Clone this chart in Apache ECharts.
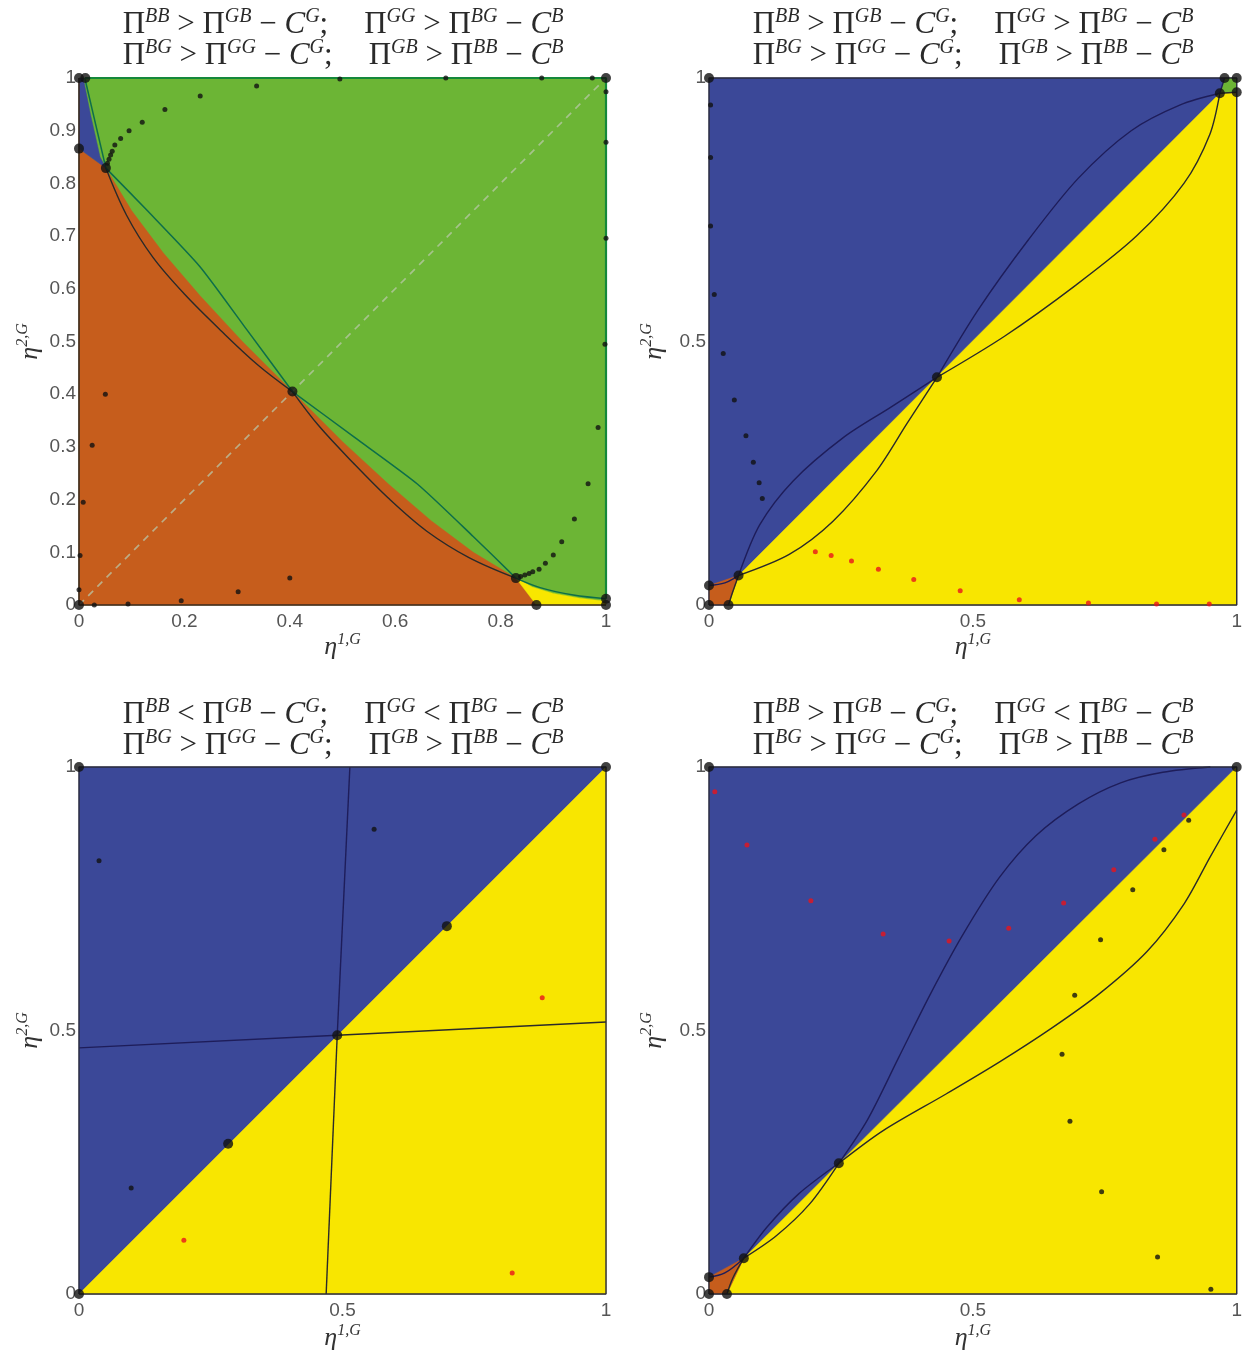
<!DOCTYPE html>
<html><head><meta charset="utf-8">
<script src="https://cdn.jsdelivr.net/npm/echarts@6/dist/echarts.min.js"></script>
<style>html,body{margin:0;padding:0;background:#fff}#c{width:1245px;height:1354px}</style>
</head><body><div id="c"></div>
<script>
// ================= DATA =================
// Tick label sets
const ticksA_x = [0, 0.2, 0.4, 0.6, 0.8, 1];
const ticksA_y = [0, 0.1, 0.2, 0.3, 0.4, 0.5, 0.6, 0.7, 0.8, 0.9, 1];
const ticksBCD = [0, 0.5, 1];

// ---- Panel A (top-left) regions ----
const A_green  = [[0,0],[1,0],[1,1],[0,1]];
const A_orange = [[0,0],[0,0.866],[0.051,0.829],[0.1,0.748],[0.16,0.668],[0.2296,0.587],[0.31,0.5],[0.405,0.405],[0.5,0.31],[0.587,0.2296],[0.668,0.16],[0.748,0.1],[0.829,0.051],[0.868,0]];
const A_blue   = [[0,1],[0.008,1],[0.022,0.93],[0.04,0.85],[0.051,0.829],[0,0.866]];
const A_yellow = [[0.829,0.051],[0.868,0],[1,0],[1,0.007],[0.95,0.013],[0.9,0.022],[0.86,0.034]];
// ---- Panel A curves ----
const A_teal1 = [[0.011,1],[0.051,0.829]];
const A_teal2 = [[0.051,0.829],[0.13,0.748],[0.2296,0.642],[0.318,0.523],[0.405,0.405]];
const A_teal3 = [[0.405,0.405],[0.523,0.318],[0.642,0.2296],[0.748,0.13],[0.829,0.051]];
const A_teal4 = [[0.829,0.051],[0.875,0.033],[0.938,0.019],[1,0.012]];
const A_black1 = [[0.051,0.829],[0.09,0.74],[0.14,0.66],[0.2,0.59],[0.27,0.52],[0.34,0.455],[0.405,0.405]];
const A_black2 = [[0.405,0.405],[0.455,0.34],[0.52,0.27],[0.59,0.2],[0.66,0.14],[0.74,0.09],[0.829,0.051]];
const A_diag = [[0,0],[1,1]];
const A_edgeGreen = [[0.011,1],[1,1],[1,0.012]];
const A_edgeDark = [[0,1],[0,0],[1,0]];
// ---- Panel A dots ----
const A_big = [[0,0],[0,1],[0.012,1],[1,1],[0,0.866],[0.051,0.829],[0.405,0.405],[0.829,0.051],[0.868,0],[1,0],[1,0.012]];
const A_small = [
  [0.054,0.838],[0.057,0.846],[0.06,0.854],[0.063,0.861],[0.068,0.873],[0.079,0.885],[0.095,0.9],[0.12,0.916],[0.163,0.94],[0.23,0.966],[0.337,0.985],[0.495,0.998],[0.696,1],[0.878,1],[0.974,1],
  [0.838,0.054],[0.846,0.057],[0.854,0.06],[0.861,0.063],[0.873,0.068],[0.885,0.079],[0.9,0.095],[0.916,0.12],[0.94,0.163],[0.966,0.23],[0.985,0.337],[0.998,0.495],[1,0.696],[1,0.878],[1,0.974],
  [0,0.029],[0.002,0.094],[0.008,0.195],[0.025,0.303],[0.05,0.4],
  [0.029,0],[0.093,0.002],[0.194,0.008],[0.302,0.025],[0.4,0.051]
];

// ---- Panel B (top-right) ----
const B_blue   = [[0,0],[1,0],[1,1],[0,1]];
const B_yellow = [[0.037,0],[1,0],[1,0.973],[0.968,0.971],[0.056,0.056]];
const B_orange = [[0,0],[0.037,0],[0.056,0.056],[0,0.037]];
const B_green  = [[0.968,0.971],[1,0.973],[1,1],[0.977,1]];
const B_navy0 = [[0,0.037],[0.03,0.042],[0.056,0.056]];
const B_navy1 = [[0.056,0.056],[0.096,0.152],[0.159,0.235],[0.255,0.318],[0.344,0.375],[0.432,0.432]];
const B_navy2 = [[0.432,0.432],[0.51,0.56],[0.606,0.694],[0.70,0.81],[0.80,0.90],[0.893,0.949],[0.968,0.971]];
const B_navy3 = [[0.968,0.971],[0.977,1]];
const B_black0 = [[0.037,0],[0.045,0.025],[0.056,0.056]];
const B_black1 = [[0.056,0.056],[0.152,0.096],[0.235,0.159],[0.318,0.255],[0.375,0.344],[0.432,0.432]];
const B_black2 = [[0.432,0.432],[0.56,0.51],[0.694,0.606],[0.81,0.70],[0.90,0.80],[0.949,0.893],[0.968,0.971]];
const B_black3 = [[0.968,0.971],[1,0.973]];
const B_big = [[0,0],[0.037,0],[0,0.037],[0.056,0.056],[0.432,0.432],[0.968,0.971],[0.977,1],[1,1],[1,0.973],[0,1]];
const B_smallBlack = [[0.003,0.949],[0.003,0.849],[0.003,0.719],[0.01,0.589],[0.027,0.477],[0.048,0.389],[0.07,0.321],[0.084,0.271],[0.095,0.232],[0.101,0.202]];
const B_smallRed = [[0.2015,0.101],[0.2315,0.094],[0.27,0.0835],[0.321,0.068],[0.388,0.0485],[0.476,0.027],[0.588,0.01],[0.719,0.004],[0.848,0.002],[0.948,0.002]];

// ---- Panel C (bottom-left) ----
const C_blue   = [[0,0],[1,0],[1,1],[0,1]];
const C_yellow = [[0,0],[1,0],[1,1]];
const C_navyL = [[0,0.467],[0.49,0.491]];
const C_navyT = [[0.514,1],[0.49,0.491]];
const C_blackR = [[0.49,0.491],[1,0.516]];
const C_blackB = [[0.49,0.491],[0.469,0]];
const C_big = [[0,0],[0,1],[1,1],[0.49,0.491],[0.698,0.698],[0.283,0.285]];
const C_smallBlack = [[0.038,0.822],[0.099,0.201],[0.56,0.882]];
const C_smallRed = [[0.199,0.102],[0.879,0.562],[0.822,0.04]];

// ---- Panel D (bottom-right) ----
const D_blue   = [[0,0],[1,0],[1,1],[0,1]];
const D_yellow = [[0.034,0],[1,0],[1,1],[0.066,0.068]];
const D_orange = [[0,0],[0.034,0],[0.066,0.068],[0,0.032]];
const D_navy0 = [[0,0.032],[0.03,0.04],[0.066,0.068]];
const D_navy1 = [[0.066,0.068],[0.11,0.127],[0.17,0.19],[0.246,0.248]];
const D_navy2 = [[0.246,0.248],[0.30,0.33],[0.36,0.45],[0.42,0.57],[0.48,0.68],[0.55,0.79],[0.62,0.87],[0.70,0.93],[0.78,0.97],[0.86,0.99],[0.95,1]];
const D_black0 = [[0.034,0],[0.045,0.03],[0.066,0.068]];
const D_black1 = [[0.066,0.068],[0.127,0.11],[0.19,0.17],[0.246,0.248]];
const D_black2 = [[0.246,0.248],[0.33,0.31],[0.45,0.38],[0.55,0.44],[0.65,0.505],[0.74,0.57],[0.83,0.65],[0.9,0.74],[0.95,0.83],[1,0.918]];
const D_big = [[0,0],[0.034,0],[0,0.032],[0.066,0.068],[0.246,0.248],[1,1],[0,1]];
const D_smallBlack = [[0.909,0.899],[0.862,0.843],[0.803,0.767],[0.742,0.672],[0.693,0.567],[0.669,0.455],[0.684,0.328],[0.744,0.194],[0.85,0.07],[0.951,0.009]];
const D_smallRed = [[0.011,0.953],[0.072,0.852],[0.193,0.746],[0.33,0.683],[0.455,0.67],[0.568,0.694],[0.672,0.742],[0.767,0.805],[0.845,0.863],[0.9,0.909]];

const frame = [[0,0],[1,0],[1,1],[0,1],[0,0]];

// Title lines (rich text)
const titleA1 = '{p|Π}{s|BB}{n| > }{p|Π}{s|GB}{n| − }{i|C}{s|G}{n|;}{g| }{p|Π}{s|GG}{n| > }{p|Π}{s|BG}{n| − }{i|C}{s|B}';
const titleA2 = '{p|Π}{s|BG}{n| > }{p|Π}{s|GG}{n| − }{i|C}{s|G}{n|;}{g| }{p|Π}{s|GB}{n| > }{p|Π}{s|BB}{n| − }{i|C}{s|B}';
const titleC1 = '{p|Π}{s|BB}{n| < }{p|Π}{s|GB}{n| − }{i|C}{s|G}{n|;}{g| }{p|Π}{s|GG}{n| < }{p|Π}{s|BG}{n| − }{i|C}{s|B}';
const titleD1 = '{p|Π}{s|BB}{n| > }{p|Π}{s|GB}{n| − }{i|C}{s|G}{n|;}{g| }{p|Π}{s|GG}{n| < }{p|Π}{s|BG}{n| − }{i|C}{s|B}';
const xName = '{e|η}{s|1,G}';
const yName = '{e|η}{s|2,G}';

// ================= COLORS / STYLE =================
const COL = {green:'#6cb535', orange:'#c65d1c', blue:'#3b4898', yellow:'#f8e600',
  teal:'#0d6e4a', black:'#2a2a2a', navy:'#1e1d5a', edgeGreen:'#14883a', red:'#e8141c', dot:'#111'};

const grids = [
  {left:79, top:78, width:527, height:527},
  {left:709, top:78, width:528, height:527},
  {left:79, top:767, width:527, height:527},
  {left:709, top:767, width:528, height:527}
];

const TF = 'Liberation Serif';
const titleRich = {
  p:{fontFamily:TF, fontSize:31, fontWeight:'normal', color:'#2a2a2a', lineHeight:33, verticalAlign:'bottom'},
  n:{fontFamily:TF, fontSize:31, fontWeight:'normal', color:'#2a2a2a', lineHeight:33, verticalAlign:'bottom'},
  i:{fontFamily:TF, fontSize:31, fontWeight:'normal', fontStyle:'italic', color:'#2a2a2a', lineHeight:33, verticalAlign:'bottom'},
  s:{fontFamily:TF, fontSize:20, fontWeight:'normal', fontStyle:'italic', color:'#2a2a2a', lineHeight:15, verticalAlign:'top'},
  g:{width:36, lineHeight:33}
};
const nameRich = {
  e:{fontFamily:TF, fontSize:26, fontStyle:'italic', color:'#333', lineHeight:28, verticalAlign:'bottom'},
  s:{fontFamily:TF, fontSize:16, fontStyle:'italic', color:'#333', lineHeight:12, verticalAlign:'top'}
};

function mkTitle(text, cx, top){
  return {text, left:cx, top, textAlign:'center', padding:0, itemGap:0,
    textStyle:{fontWeight:'normal', rich:titleRich}};
}

function fmt(v){ return String(Math.round(v*10)/10); }

function mkX(g, interval, gap){
  return {type:'value', gridIndex:g, min:0, max:1, interval,
    axisLine:{show:false}, axisTick:{show:false}, splitLine:{show:false},
    axisLabel:{color:'#555', fontSize:19, fontFamily:'Liberation Sans', margin:7, formatter:fmt, showMinLabel:true, showMaxLabel:true},
    name:xName, nameLocation:'middle', nameGap:gap, nameTextStyle:{rich:nameRich}};
}
function mkY(g, interval, gap){
  return {type:'value', gridIndex:g, min:0, max:1, interval,
    axisLine:{show:false}, axisTick:{show:false}, splitLine:{show:false},
    axisLabel:{color:'#555', fontSize:19, fontFamily:'Liberation Sans', margin:3, formatter:fmt, showMinLabel:true, showMaxLabel:true},
    name:yName, nameLocation:'middle', nameGap:gap, nameRotate:90, nameTextStyle:{rich:nameRich}};
}

function poly(g, pts, color, z){
  return {type:'custom', xAxisIndex:g, yAxisIndex:g, silent:true, z:z||1, animation:false,
    data:[[pts[0][0], pts[0][1]]],
    renderItem:function(params, api){
      return {type:'polygon', shape:{points: pts.map(p=>api.coord(p))}, style:{fill:color, stroke:color, lineWidth:0.5}};
    }};
}
function line(g, pts, color, width, smooth, extra){
  return Object.assign({type:'line', xAxisIndex:g, yAxisIndex:g, data:pts, symbol:'none', showSymbol:false,
    smooth:smooth||false, clip:false, silent:true, z:5, animation:false,
    lineStyle:{color, width}}, extra||{});
}
function dots(g, pts, color, size, z){
  return {type:'scatter', xAxisIndex:g, yAxisIndex:g, data:pts, symbol:'circle', symbolSize:size,
    itemStyle:{color}, clip:false, silent:true, z:z||8, animation:false};
}

const series = [
  // Panel A
  poly(0, A_green, COL.green, 1),
  poly(0, A_orange, COL.orange, 2),
  poly(0, A_blue, COL.blue, 2),
  poly(0, A_yellow, COL.yellow, 2),
  line(0, A_diag, 'rgba(185,190,170,0.65)', 1.5, false, {lineStyle:{color:'rgba(185,200,170,0.75)', width:1.7, type:[7,6]}, z:4}),
  line(0, A_black1, COL.black, 1.4, 0.35),
  line(0, A_black2, COL.black, 1.4, 0.35),
  line(0, A_teal1, COL.teal, 1.5, false),
  line(0, A_teal2, COL.teal, 1.5, 0.2),
  line(0, A_teal3, COL.teal, 1.5, 0.2),
  line(0, A_teal4, COL.teal, 1.5, 0.35),
  line(0, A_edgeGreen, COL.edgeGreen, 2.2, false),
  line(0, A_edgeDark, '#3a2a1e', 1.6, false),
  dots(0, A_small, COL.dot, 5),
  dots(0, A_big, COL.dot, 10, 9),
  // Panel B
  poly(1, B_blue, COL.blue, 1),
  poly(1, B_yellow, COL.yellow, 2),
  poly(1, B_orange, COL.orange, 2),
  poly(1, B_green, COL.green, 2),
  line(1, B_navy0, COL.navy, 1.4, 0.35),
  line(1, B_navy1, COL.navy, 1.4, 0.3),
  line(1, B_navy2, COL.navy, 1.4, 0.3),
  line(1, B_navy3, COL.navy, 1.4, false),
  line(1, B_black0, COL.black, 1.4, 0.35),
  line(1, B_black1, COL.black, 1.4, 0.3),
  line(1, B_black2, COL.black, 1.4, 0.3),
  line(1, B_black3, COL.black, 1.4, false),
  line(1, frame, '#2b2b3a', 1.4, false),
  dots(1, B_smallBlack, COL.dot, 5),
  dots(1, B_smallRed, COL.red, 5),
  dots(1, B_big, COL.dot, 10, 9),
  // Panel C
  poly(2, C_blue, COL.blue, 1),
  poly(2, C_yellow, COL.yellow, 2),
  line(2, C_navyL, COL.navy, 1.4, false),
  line(2, C_navyT, COL.navy, 1.4, false),
  line(2, C_blackR, COL.black, 1.4, false),
  line(2, C_blackB, COL.black, 1.4, false),
  line(2, frame, '#2b2b3a', 1.4, false),
  dots(2, C_smallBlack, COL.dot, 5),
  dots(2, C_smallRed, COL.red, 5),
  dots(2, C_big, COL.dot, 10, 9),
  // Panel D
  poly(3, D_blue, COL.blue, 1),
  poly(3, D_yellow, COL.yellow, 2),
  poly(3, D_orange, COL.orange, 2),
  line(3, D_navy0, COL.navy, 1.4, 0.35),
  line(3, D_navy1, COL.navy, 1.4, 0.3),
  line(3, D_navy2, COL.navy, 1.4, 0.3),
  line(3, D_black0, COL.black, 1.4, 0.35),
  line(3, D_black1, COL.black, 1.4, 0.3),
  line(3, D_black2, COL.black, 1.4, 0.3),
  line(3, frame, '#2b2b3a', 1.4, false),
  dots(3, D_smallBlack, COL.dot, 5),
  dots(3, D_smallRed, COL.red, 5),
  dots(3, D_big, COL.dot, 10, 9)
];

const chart = echarts.init(document.getElementById('c'), null, {renderer:'canvas'});
chart.setOption({
  backgroundColor:'#fff',
  animation:false,
  title:[
    mkTitle(titleA1, 343, 7), mkTitle(titleA2, 343, 38),
    mkTitle(titleA1, 973, 7), mkTitle(titleA2, 973, 38),
    mkTitle(titleC1, 343, 697), mkTitle(titleA2, 343, 728),
    mkTitle(titleD1, 973, 697), mkTitle(titleA2, 973, 728)
  ],
  grid: grids,
  xAxis:[mkX(0,0.2,27), mkX(1,0.5,27), mkX(2,0.5,29), mkX(3,0.5,29)],
  yAxis:[mkY(0,0.1,36), mkY(1,0.5,42), mkY(2,0.5,36), mkY(3,0.5,42)],
  series
});
</script></body></html>
